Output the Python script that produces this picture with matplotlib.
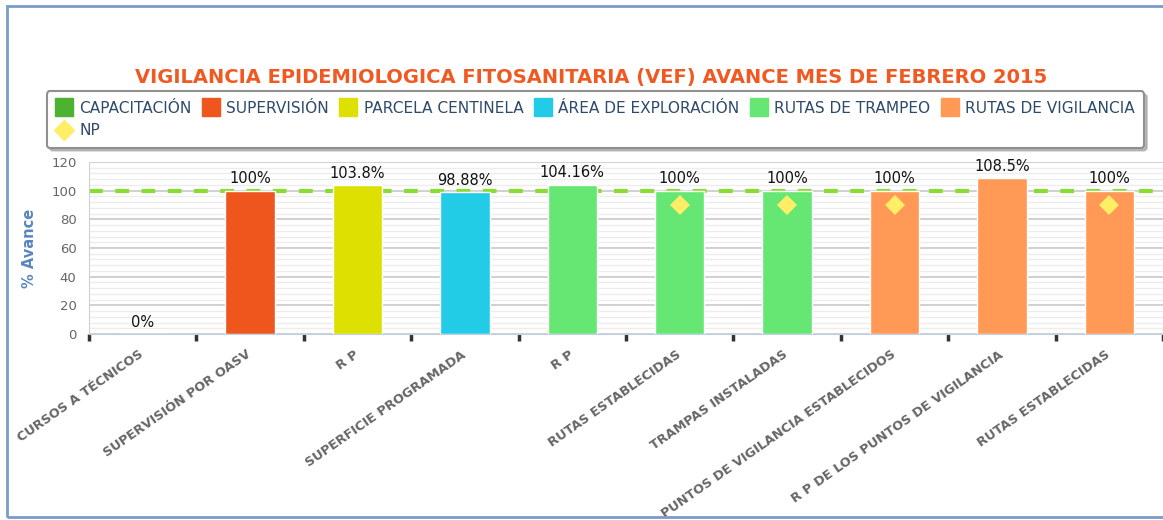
import matplotlib.pyplot as plt
from matplotlib.lines import Line2D
from matplotlib.patches import Rectangle
from matplotlib.transforms import ScaledTranslation
import numpy as np

# datos del grafico
categorias = ["CURSOS A TÉCNICOS", "SUPERVISIÓN POR OASV", "R P",
              "SUPERFICIE PROGRAMADA", "R P", "RUTAS ESTABLECIDAS",
              "TRAMPAS INSTALADAS", "PUNTOS DE VIGILANCIA ESTABLECIDOS",
              "R P DE LOS PUNTOS DE VIGILANCIA", "RUTAS ESTABLECIDAS"]
avance = [0, 100, 103.8, 98.88, 104.16, 100, 100, 100, 108.5, 100]
etiquetas = ["0%", "100%", "103.8%", "98.88%", "104.16%", "100%",
             "100%", "100%", "108.5%", "100%"]
grupo = [0, 1, 2, 3, 4, 4, 4, 5, 5, 5]
series = ["CAPACITACIÓN", "SUPERVISIÓN", "PARCELA CENTINELA",
          "ÁREA DE EXPLORACIÓN", "RUTAS DE TRAMPEO", "RUTAS DE VIGILANCIA"]
colores = ["#4DB132", "#EE561E", "#DDE000", "#22CCE6", "#66E673", "#FF9955"]
np_idx = [5, 6, 7, 9]
np_val = [90, 90, 90, 90]
meta = 100

fig = plt.figure(figsize=(11.63, 5.2), dpi=100)
ax = fig.add_axes([89 / 1163, 1 - 334 / 520, 1 - 89 / 1163, 172 / 520])

x = np.arange(len(categorias))
ax.bar(x, avance, width=0.46, color=[colores[g] for g in grupo],
       edgecolor="white", linewidth=1, zorder=3)
ax.plot(np_idx, np_val, "D", color="#FFEE66", markersize=10, zorder=4,
        markeredgewidth=0)
ax.axhline(meta, color="#88DD2E", lw=3, dashes=(3.3, 3.0), zorder=2.5)

for xi, v, t in zip(x, avance, etiquetas):
    ax.text(xi, v + 3, t, ha="center", va="bottom", fontsize=10.5,
            color="#111111", zorder=5)

ax.set_xlim(-0.5, 9.45)
ax.set_ylim(0, 120)
ax.set_yticks(np.arange(0, 121, 20))
ax.set_yticks(np.arange(0, 121, 4), minor=True)
ax.grid(axis="y", which="major", color="#C8C8C8", lw=1.2, zorder=0)
ax.grid(axis="y", which="minor", color="#EDEDED", lw=1, zorder=0)
ax.tick_params(axis="y", which="both", length=0, labelsize=9.5,
               labelcolor="#666666", pad=9)

# etiquetas del eje x dibujadas a mano (rotadas)
ax.set_xticks(x)
ax.set_xticklabels([])
trans = ax.get_xaxis_transform() + ScaledTranslation(-4 / 100, -14 / 100,
                                                     fig.dpi_scale_trans)
for xi, lab in zip(x, categorias):
    ax.text(xi, 0, lab, transform=trans, rotation=35, ha="right", va="top",
            rotation_mode="anchor", fontsize=9.3, fontweight="bold",
            color="#666666", clip_on=False)
ax.set_xticks(np.arange(-0.5, 10, 1), minor=True)
ax.tick_params(axis="x", which="major", length=0)
ax.tick_params(axis="x", which="minor", length=5, width=2.5,
               color="#333333")

for s in ["top", "right"]:
    ax.spines[s].set_visible(False)
ax.spines["left"].set_color("#D0D0D0")
ax.spines["bottom"].set_color("#C0D0E0")
ax.spines["bottom"].set_zorder(6)

ax.set_ylabel("% Avance", fontsize=10.5, fontweight="bold",
              color="#5A86BE", labelpad=10)

fig.text(0.508, 0.85, "VIGILANCIA EPIDEMIOLOGICA FITOSANITARIA (VEF) AVANCE MES DE FEBRERO 2015",
         ha="center", va="center", fontsize=14, fontweight="bold",
         color="#F05A22")

# leyenda: NP va debajo de CAPACITACIÓN
h = [Line2D([], [], ls="", marker="s", markersize=12.5, color=c) for c in colores]
h_np = Line2D([], [], ls="", marker="D", markersize=10, color="#FFEE66")
handles = [h[0], h_np] + h[1:]
labels = [series[0], "NP"] + series[1:]
leg = fig.legend(handles, labels, ncol=6, loc="center",
                 bbox_to_anchor=(0.512, 0.77), fontsize=11.1,
                 frameon=True, fancybox=True,
                 shadow={"color": "#888888", "alpha": 0.5},
                 edgecolor="#909090", handlelength=1.0, handletextpad=0.5,
                 columnspacing=0.75, borderpad=0.6, labelspacing=0.5)
for t in leg.get_texts():
    t.set_color("#2E4A6B")
leg.get_frame().set_linewidth(1.5)

fig.patches.append(Rectangle((7 / 1163, 3 / 520), 1.1, 511 / 520,
                             transform=fig.transFigure, fill=False,
                             edgecolor="#7A9CC8", lw=2))

fig.savefig("out.png", dpi=100)
